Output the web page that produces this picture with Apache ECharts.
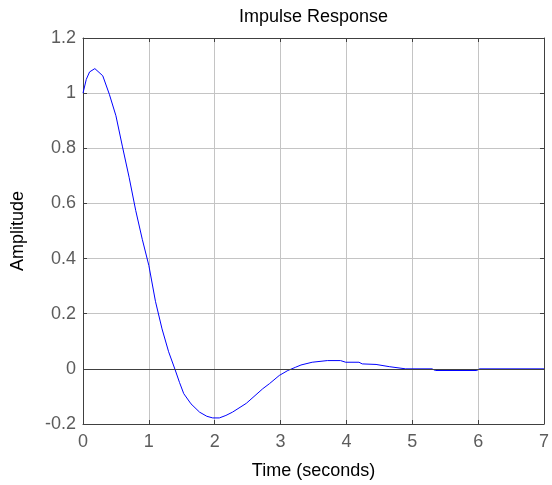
<!DOCTYPE html>
<html>
<head>
<meta charset="utf-8">
<script src="https://cdn.jsdelivr.net/npm/echarts@6/dist/echarts.min.js"></script>
<style>
  html, body { margin: 0; padding: 0; background: #fff; }
  #chart { width: 552px; height: 485px; }
</style>
</head>
<body>
<div id="chart"></div>
<script>
// impulse response
const timeSec = [0, 0.05, 0.1, 0.18, 0.3, 0.4, 0.5, 0.6, 0.7, 0.8, 0.9,
  1.0, 1.1, 1.2, 1.3, 1.4, 1.465, 1.53, 1.64, 1.77, 1.88, 1.97, 2.07, 2.17, 2.27, 2.48,
  2.73, 2.83, 2.98, 3.11, 3.23, 3.31, 3.48, 3.71, 3.91, 3.99, 4.19, 4.24, 4.45, 4.65, 4.9, 5.3,
  5.35, 5.98, 6.02, 7];
const amplitude = [1.0, 1.05, 1.077, 1.089, 1.063, 0.996, 0.918, 0.805, 0.695, 0.575, 0.47,
  0.375, 0.245, 0.145, 0.062, -0.004, -0.049, -0.09, -0.127, -0.157, -0.172, -0.178, -0.178, -0.169, -0.157, -0.125,
  -0.072, -0.054, -0.024, -0.006, 0.006, 0.014, 0.024, 0.030, 0.030, 0.024, 0.024, 0.018, 0.016, 0.008, 0, 0,
  -0.006, -0.006, 0, 0];
const xTicks = [0, 1, 2, 3, 4, 5, 6, 7];
const yTicks = [-0.2, 0, 0.2, 0.4, 0.6, 0.8, 1, 1.2];

const chart = echarts.init(document.getElementById('chart'));
const frame = '#404040';
const gridColor = '#c4c4c4';
const font = 'Liberation Sans, Arial, sans-serif';

const points = timeSec.map((t, i) => [t, amplitude[i]]);

chart.setOption({
  animation: false,
  grid: { left: 83, right: 7, top: 38, bottom: 61 },
  xAxis: [
    {
      type: 'value',
      position: 'bottom',
      min: xTicks[0],
      max: xTicks[xTicks.length - 1],
      interval: 1,
      name: 'Time (seconds)',
      nameLocation: 'middle',
      nameGap: 38,
      nameTextStyle: { color: '#000', fontSize: 18, fontFamily: font },
      axisLine: { onZero: false, lineStyle: { color: frame, width: 1 } },
      axisTick: { inside: true, length: 4, lineStyle: { color: frame } },
      axisLabel: { color: '#5c5c5c', fontSize: 18, fontFamily: font, margin: 9 },
      splitLine: { show: true, lineStyle: { color: gridColor, width: 1 } }
    },
    {
      type: 'value',
      position: 'top',
      min: xTicks[0],
      max: xTicks[xTicks.length - 1],
      interval: 1,
      name: 'Impulse Response',
      nameLocation: 'middle',
      nameGap: 12,
      nameTextStyle: { color: '#000', fontSize: 18, fontFamily: font, verticalAlign: 'bottom' },
      axisLine: { onZero: false, lineStyle: { color: frame, width: 1 } },
      axisTick: { inside: true, length: 4, lineStyle: { color: frame } },
      axisLabel: { show: false },
      splitLine: { show: false }
    }
  ],
  yAxis: [
    {
      type: 'value',
      position: 'left',
      min: yTicks[0],
      max: yTicks[yTicks.length - 1],
      interval: 0.2,
      name: 'Amplitude',
      nameLocation: 'middle',
      nameGap: 56,
      nameTextStyle: { color: '#000', fontSize: 18, fontFamily: font },
      axisLine: { onZero: false, lineStyle: { color: frame, width: 1 } },
      axisTick: { inside: true, length: 4, lineStyle: { color: frame } },
      axisLabel: {
        color: '#5c5c5c', fontSize: 18, fontFamily: font, margin: 7,
        formatter: v => String(Math.round(v * 10) / 10)
      },
      splitLine: { show: true, lineStyle: { color: gridColor, width: 1 } }
    },
    {
      type: 'value',
      position: 'right',
      min: yTicks[0],
      max: yTicks[yTicks.length - 1],
      interval: 0.2,
      axisLine: { show: true, onZero: false, lineStyle: { color: frame, width: 1 } },
      axisTick: { show: true, inside: true, length: 4, lineStyle: { color: frame } },
      axisLabel: { show: false },
      splitLine: { show: false }
    }
  ],
  series: [
    {
      type: 'line',
      data: points,
      showSymbol: false,
      symbol: 'none',
      lineStyle: { color: '#0000ff', width: 1 },
      markLine: {
        silent: true,
        symbol: 'none',
        label: { show: false },
        lineStyle: { color: '#404040', width: 1, type: 'solid' },
        data: [{ yAxis: 0 }]
      },
      z: 3
    }
  ]
});
</script>
</body>
</html>
